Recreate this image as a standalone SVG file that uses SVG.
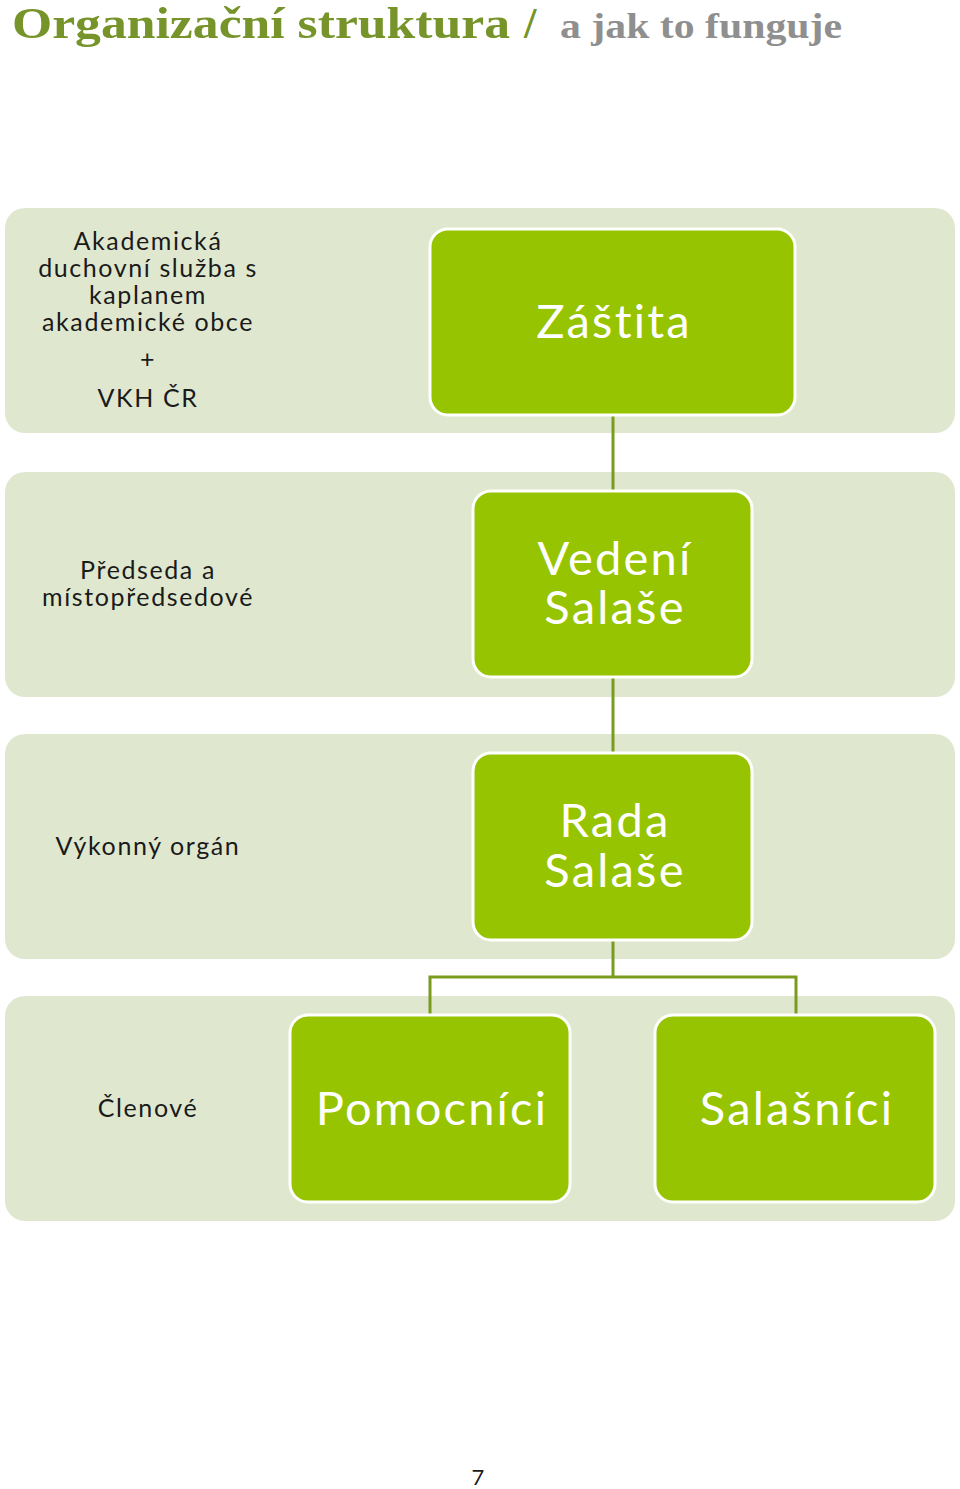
<svg xmlns="http://www.w3.org/2000/svg" width="960" height="1489" viewBox="0 0 960 1489">
<style>
.band{fill:#dfe8cf}
.node{fill:#97c400;stroke:#ffffff;stroke-width:3}
.conn{stroke:#7a9c1e;stroke-width:3;fill:none}
.lbl{font-family:"Lato","Liberation Sans",sans-serif;font-size:25px;letter-spacing:1.6px;fill:#1a1a1a;text-anchor:middle}
.big{font-family:"Lato","Liberation Sans",sans-serif;font-size:47px;letter-spacing:2.2px;fill:#ffffff;text-anchor:middle}
</style>
<rect width="960" height="1489" fill="#ffffff"/>
<g id="title">
<text x="12" y="38" font-family="Liberation Serif, serif" font-weight="bold" font-size="45" fill="#77942a" textLength="498" lengthAdjust="spacingAndGlyphs">Organizační struktura</text>
<text x="524" y="38" font-family="Liberation Serif, serif" font-weight="bold" font-size="45" fill="#77942a">/</text>
<text x="560" y="38" font-family="Liberation Serif, serif" font-weight="bold" font-size="36" fill="#8f8f8f" textLength="282" lengthAdjust="spacingAndGlyphs">a jak to funguje</text>
</g>
<g id="bands">
<rect class="band" x="5" y="208" width="950" height="225" rx="20"/>
<rect class="band" x="5" y="472" width="950" height="225" rx="20"/>
<rect class="band" x="5" y="734" width="950" height="225" rx="20"/>
<rect class="band" x="5" y="996" width="950" height="225" rx="20"/>
</g>
<g id="connectors">
<line class="conn" x1="613" y1="415" x2="613" y2="491"/>
<line class="conn" x1="613" y1="677" x2="613" y2="753"/>
<polyline class="conn" points="613,940 613,977"/>
<polyline class="conn" points="430,1015 430,977 796,977 796,1015"/>
</g>
<g id="label-zastita">
<text class="lbl" x="148" y="250">Akademická</text>
<text class="lbl" x="148" y="277">duchovní služba s</text>
<text class="lbl" x="148" y="304">kaplanem</text>
<text class="lbl" x="148" y="331">akademické obce</text>
<text class="lbl" x="148" y="368">+</text>
<text class="lbl" x="148" y="407">VKH ČR</text>
</g>
<g id="label-vedeni">
<text class="lbl" x="148" y="579">Předseda a</text>
<text class="lbl" x="148" y="606">místopředsedové</text>
</g>
<g id="label-rada">
<text class="lbl" x="148" y="855">Výkonný orgán</text>
</g>
<g id="label-clenove">
<text class="lbl" x="148" y="1117">Členové</text>
</g>
<g id="node-zastita">
<rect class="node" x="430" y="229" width="365" height="186" rx="18"/>
<text class="big" x="614" y="338">Záštita</text>
</g>
<g id="node-vedeni">
<rect class="node" x="473" y="491" width="279" height="186" rx="18"/>
<text class="big" x="615" y="575">Vedení</text>
<text class="big" x="615" y="624">Salaše</text>
</g>
<g id="node-rada">
<rect class="node" x="473" y="753" width="279" height="187" rx="18"/>
<text class="big" x="615" y="837">Rada</text>
<text class="big" x="615" y="887">Salaše</text>
</g>
<g id="node-pomocnici">
<rect class="node" x="290" y="1015" width="280" height="187" rx="18"/>
<text class="big" x="432" y="1125">Pomocníci</text>
</g>
<g id="node-salasnici">
<rect class="node" x="655" y="1015" width="280" height="187" rx="18"/>
<text class="big" x="797" y="1125">Salašníci</text>
</g>
<g id="page-number">
<text x="478" y="1485" font-family="Lato, Liberation Sans, sans-serif" font-size="22" fill="#1a1a1a" text-anchor="middle">7</text>
</g>
</svg>
